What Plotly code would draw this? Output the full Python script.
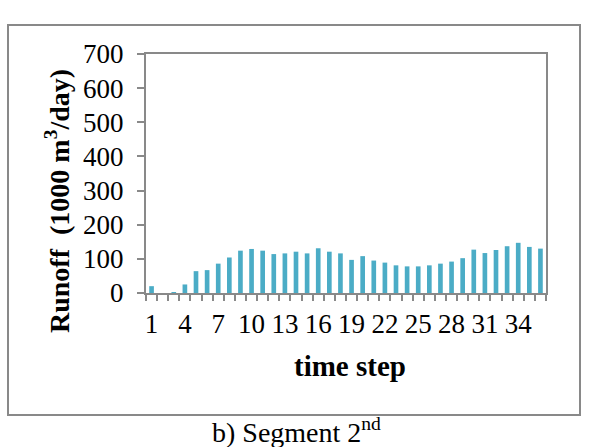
import plotly.graph_objects as go

# ---- data ----
time_steps = list(range(1, 37))
runoff = [20, 0, 2, 25, 64, 67, 86, 104, 124, 129, 124, 114, 116, 121, 116, 131,
          121, 116, 97, 108, 95, 89, 81, 78, 78, 81, 86, 92, 102, 127, 117, 126,
          137, 147, 135, 130]
x_tick_vals = list(range(1, 37, 3))
x_tick_text = [str(v) for v in x_tick_vals]
y_tick_vals = list(range(0, 701, 100))

FONT = "Liberation Serif"
AXIS_GREY = "#898989"
BAR_COLOR = "#4BACC6"

# layout geometry (pixels)
W, H = 601, 447
L, R, T, B = 146, 55, 54, 154
pw, ph = W - L - R, H - T - B


def px_x(p):
    return (p - L) / pw


def px_y(p):
    return (H - B - p) / ph


fig = go.Figure()
fig.add_trace(go.Bar(
    x=time_steps, y=runoff,
    marker=dict(color=BAR_COLOR, line=dict(width=0)),
))

minor_vals = [v - 0.5 for v in time_steps] + [time_steps[-1] + 0.5]

fig.update_layout(
    width=W, height=H,
    margin=dict(l=L, r=R, t=T, b=B),
    paper_bgcolor="white",
    plot_bgcolor="white",
    bargap=0.58,
    showlegend=False,
    font=dict(family=FONT, color="black", size=27),
    xaxis=dict(
        range=[0.5, 36.5],
        tickmode="array", tickvals=x_tick_vals, ticktext=x_tick_text,
        ticks="outside", ticklen=6, tickcolor="rgba(0,0,0,0)",
        tickfont=dict(family=FONT, size=27, color="black"),
        showline=True, linecolor=AXIS_GREY, linewidth=2, mirror=True,
        showgrid=False, zeroline=False,
        minor=dict(tickvals=minor_vals, ticks="outside", ticklen=6,
                   tickcolor=AXIS_GREY, tickwidth=1.5, showgrid=False),
        fixedrange=True,
    ),
    yaxis=dict(
        range=[0, 700],
        tickmode="array", tickvals=y_tick_vals,
        ticks="outside", ticklen=7, tickcolor=AXIS_GREY, tickwidth=1.5,
        tickfont=dict(family=FONT, size=27, color="black"),
        ticklabelstandoff=8,
        showline=True, linecolor=AXIS_GREY, linewidth=2, mirror=True,
        showgrid=False, zeroline=False,
        fixedrange=True,
    ),
    shapes=[dict(
        type="rect", xref="paper", yref="paper",
        x0=px_x(8), x1=px_x(580), y0=px_y(415), y1=px_y(25),
        line=dict(color=AXIS_GREY, width=2), fillcolor="rgba(0,0,0,0)",
        layer="below",
    )],
    annotations=[
        dict(text="<b>Runoff  (1000 m<sup>3</sup>/day)</b>",
             xref="paper", yref="paper", x=px_x(57), y=px_y(201),
             textangle=-90, showarrow=False, xanchor="center", yanchor="middle",
             font=dict(family=FONT, size=28, color="black")),
        dict(text="<b>time step</b>",
             xref="paper", yref="paper", x=px_x(350), y=px_y(366),
             showarrow=False, xanchor="center", yanchor="middle",
             font=dict(family=FONT, size=29, color="black")),
        dict(text="b) Segment 2<sup>nd</sup>",
             xref="paper", yref="paper", x=px_x(296), y=px_y(430),
             showarrow=False, xanchor="center", yanchor="middle",
             font=dict(family=FONT, size=28, color="black")),
    ],
)

fig.write_html("out.html")
